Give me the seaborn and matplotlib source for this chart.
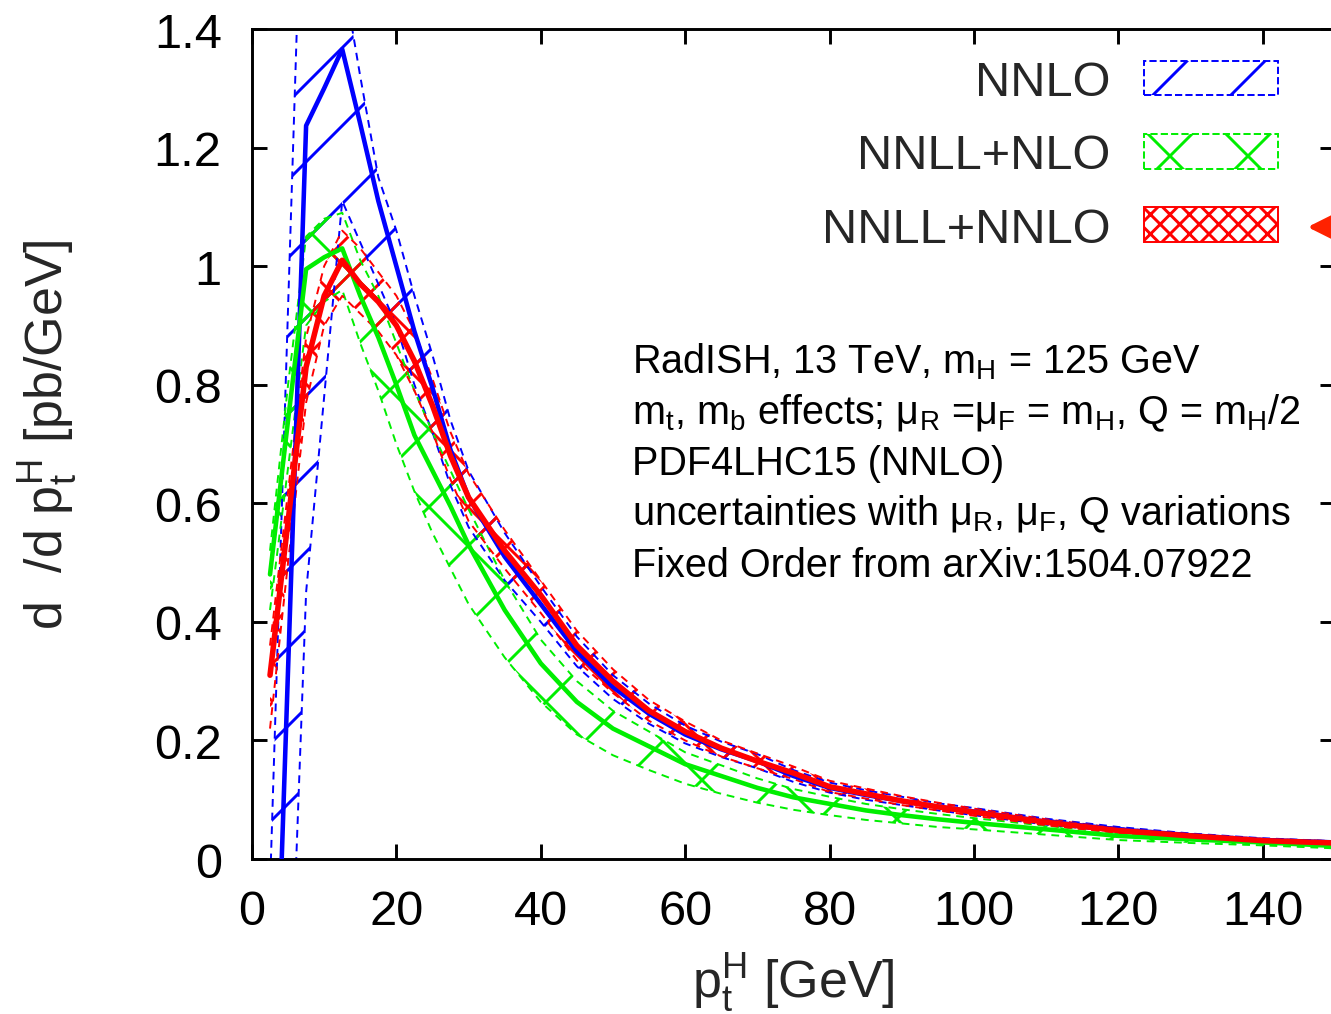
import matplotlib
matplotlib.use("Agg")
import numpy as np
import pandas as pd
import matplotlib.pyplot as plt
import matplotlib.patches as mpatches
import seaborn as sns

# Higgs transverse momentum bins [GeV]
pt = [2.5, 5, 7.5, 10, 12.5, 15, 17.5, 20, 22.5, 25, 27.5, 30,
      35, 40, 45, 50, 55, 60, 65, 70, 75, 80, 85, 90, 95, 100,
      110, 120, 130, 140, 150]

# NNLO fixed order (central, lower, upper) [pb/GeV]
nnlo = [-0.59, 0.32, 1.237, 1.30, 1.366, 1.24, 1.11, 1.00, 0.89, 0.795, 0.69, 0.61,
        0.51, 0.43, 0.35, 0.29, 0.245, 0.21, 0.185, 0.165, 0.14, 0.12, 0.108, 0.098, 0.088, 0.08,
        0.063, 0.05, 0.04, 0.032, 0.028]
nnlo_lo = [-1.2, -0.375, 0.45, 0.78, 1.11, 1.04, 0.97, 0.90, 0.80, 0.72, 0.63, 0.56,
           0.47, 0.40, 0.325, 0.27, 0.228, 0.195, 0.172, 0.153, 0.13, 0.112, 0.1, 0.091, 0.082, 0.074,
           0.058, 0.046, 0.037, 0.03, 0.026]
nnlo_hi = [-0.05, 0.93, 1.9, 1.7, 1.5, 1.32, 1.15, 1.06, 0.95, 0.85, 0.74, 0.655,
           0.55, 0.46, 0.375, 0.31, 0.262, 0.225, 0.198, 0.177, 0.15, 0.129, 0.116, 0.105, 0.094, 0.086,
           0.068, 0.054, 0.043, 0.035, 0.03]

# NNLL+NLO
nlo = [0.48, 0.74, 0.995, 1.015, 1.03, 0.95, 0.88, 0.80, 0.715, 0.655, 0.595, 0.53,
       0.42, 0.33, 0.265, 0.22, 0.19, 0.16, 0.14, 0.12, 0.104, 0.093, 0.082, 0.074, 0.067, 0.061,
       0.05, 0.039, 0.033, 0.028, 0.022]
nlo_lo = [0.42, 0.66, 0.90, 0.94, 0.96, 0.87, 0.79, 0.70, 0.62, 0.55, 0.49, 0.43,
          0.34, 0.265, 0.21, 0.175, 0.15, 0.127, 0.11, 0.095, 0.083, 0.074, 0.066, 0.06, 0.054, 0.05,
          0.041, 0.032, 0.027, 0.023, 0.018]
nlo_hi = [0.52, 0.80, 1.05, 1.08, 1.09, 1.01, 0.95, 0.87, 0.79, 0.72, 0.655, 0.59,
          0.47, 0.37, 0.30, 0.25, 0.215, 0.18, 0.158, 0.136, 0.118, 0.105, 0.093, 0.084, 0.076, 0.069,
          0.056, 0.044, 0.037, 0.031, 0.025]

# NNLL+NNLO
nnll = [0.31, 0.57, 0.83, 0.95, 1.01, 0.97, 0.94, 0.90, 0.84, 0.765, 0.68, 0.61,
        0.52, 0.445, 0.36, 0.30, 0.25, 0.215, 0.187, 0.165, 0.145, 0.122, 0.11, 0.098, 0.088, 0.079,
        0.062, 0.048, 0.039, 0.031, 0.027]
nnll_lo = [0.22, 0.50, 0.77, 0.90, 0.95, 0.92, 0.89, 0.85, 0.79, 0.72, 0.64, 0.57,
           0.49, 0.415, 0.335, 0.28, 0.233, 0.20, 0.173, 0.153, 0.135, 0.113, 0.102, 0.091, 0.082, 0.073,
           0.057, 0.044, 0.036, 0.028, 0.024]
nnll_hi = [0.36, 0.62, 0.88, 1.00, 1.06, 1.03, 0.99, 0.95, 0.89, 0.81, 0.72, 0.65,
           0.555, 0.47, 0.385, 0.32, 0.268, 0.232, 0.20, 0.178, 0.156, 0.132, 0.119, 0.106, 0.095, 0.085,
           0.067, 0.052, 0.042, 0.034, 0.03]

labels = ["NNLO", "NNLL+NLO", "NNLL+NNLO"]
colors = ["#0000ff", "#00ee00", "#ff0000"]
hatches = ["/", "x", "xx"]
legend_hatches = ["/", "x", "xxxx"]
line_widths = [1.4, 1.4, 1.7]

xticks = [0, 20, 40, 60, 80, 100, 120, 140]
yticks = [0, 0.2, 0.4, 0.6, 0.8, 1.0, 1.2, 1.4]
ytick_labels = ["0", "0.2", "0.4", "0.6", "0.8", "1", "1.2", "1.4"]

info_lines = [
    r"RadISH, 13 TeV, m$_\mathregular{H}$ = 125 GeV",
    r"m$_\mathregular{t}$, m$_\mathregular{b}$ effects; $\mu_\mathregular{R}$ =$\mu_\mathregular{F}$ = m$_\mathregular{H}$, Q = m$_\mathregular{H}$/2",
    "PDF4LHC15 (NNLO)",
    r"uncertainties with $\mu_\mathregular{R}$, $\mu_\mathregular{F}$, Q variations",
    "Fixed Order from arXiv:1504.07922",
]

sns.set_theme(style="ticks")
plt.rcParams["font.family"] = ["Liberation Sans", "DejaVu Sans"]
plt.rcParams["mathtext.fontset"] = "custom"
plt.rcParams["mathtext.rm"] = "Liberation Sans"
plt.rcParams["mathtext.it"] = "Liberation Sans"
plt.rcParams["mathtext.default"] = "regular"
plt.rcParams["hatch.linewidth"] = 0.9

DPI = 234
fig = plt.figure(figsize=(1331 / DPI, 1015 / DPI), dpi=DPI)
ax = fig.add_axes([0.1893, 0.1527, 0.8137, 0.8177])

# uncertainty bands: hatched fill with dashed edges
bands = [(nnlo_lo, nnlo_hi), (nlo_lo, nlo_hi), (nnll_lo, nnll_hi)]
for (lo, hi), col, h in zip(bands, colors, hatches):
    ax.fill_between(pt, lo, hi, facecolor="none", edgecolor=col, hatch=h, linewidth=0, zorder=1)
    ax.plot(pt, lo, color=col, lw=0.6, ls=(0, (4, 3)), zorder=2)
    ax.plot(pt, hi, color=col, lw=0.6, ls=(0, (4, 3)), zorder=2)

n_before = len(ax.lines)
df = pd.DataFrame({
    "pt": pt * 3,
    "xs": nnlo + nlo + nnll,
    "order": [labels[0]] * len(pt) + [labels[1]] * len(pt) + [labels[2]] * len(pt),
})
sns.lineplot(data=df, x="pt", y="xs", hue="order", hue_order=labels,
             palette=colors, linewidth=1.4, legend=False, sort=False, ax=ax, zorder=3)
for ln, lw in zip(ax.lines[n_before:], line_widths):
    ln.set_linewidth(lw)

ax.set_xlim(0, 150)
ax.set_ylim(0, 1.4)
ax.set_xticks(xticks)
ax.set_yticks(yticks)
ax.set_yticklabels(ytick_labels)
ax.tick_params(direction="in", length=4.6, width=0.9, top=True, right=True,
               labelsize=15, pad=9.3, colors="black")
for s in ax.spines.values():
    s.set_linewidth(0.9)
    s.set_color("black")

ax.set_xlabel(r"p$_\mathregular{t}^\mathregular{H}$ [GeV]", fontsize=16)
ax.xaxis.set_label_coords(0.5, -0.11)
ax.set_ylabel(r"d  /d p$_\mathregular{t}^\mathregular{H}$ [pb/GeV]", fontsize=16)
ax.yaxis.set_label_coords(-0.16, 0.512)

handles = [mpatches.Patch(facecolor="none", edgecolor=c, hatch=h, linewidth=0.6,
                          linestyle=ls)
           for c, h, ls in zip(colors, legend_hatches, ["--", "--", "-"])]
ax.legend(handles, labels, loc="upper right", bbox_to_anchor=(0.9695, 0.992),
          frameon=False, markerfirst=False, fontsize=15, borderpad=0,
          handlelength=2.75, handleheight=0.72, handletextpad=0.68, labelspacing=0.58)

ax.annotate("", xy=(145.3, 1.066), xytext=(160, 1.066), annotation_clip=False,
            arrowprops=dict(arrowstyle="-|>,head_length=0.6,head_width=0.3",
                            color="#ff2200", lw=1.5, mutation_scale=16))

baselines = [373, 424, 475, 525, 577]
for line, yb in zip(info_lines, baselines):
    ax.text(0.351, (860 - yb) / 830, line, transform=ax.transAxes, fontsize=12.2,
            va="baseline", ha="left", color="black")

fig.savefig("out.png", dpi=DPI)
